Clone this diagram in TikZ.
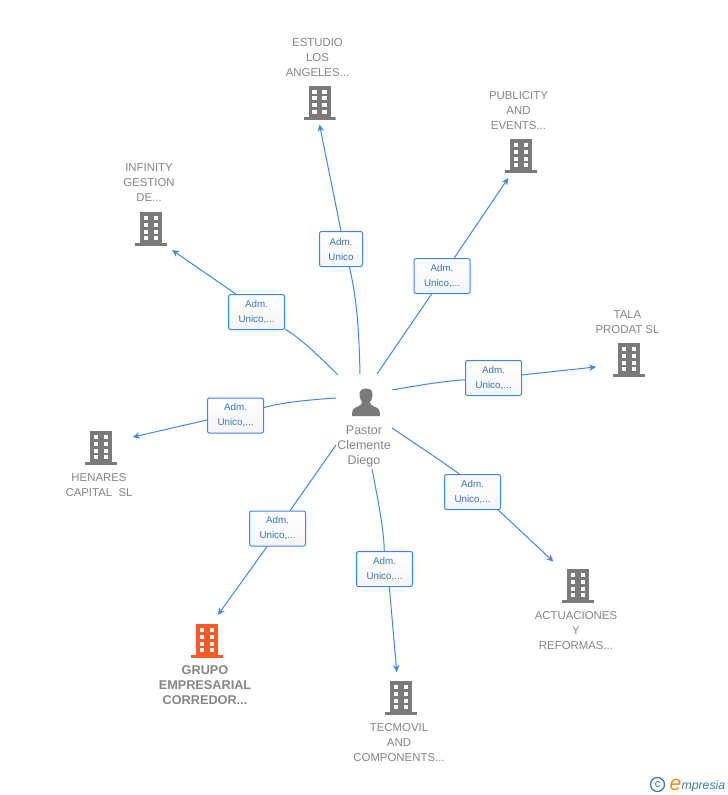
\documentclass[tikz,border=0pt]{standalone}
\usepackage{fontspec}
\setmainfont{Liberation Sans}
\usetikzlibrary{arrows.meta}
\definecolor{linkblue}{HTML}{3F87E6}
\definecolor{iconGray}{HTML}{7A7A7A}
\definecolor{iconOrange}{HTML}{FF5A26}
\definecolor{nameGray}{HTML}{858585}
\definecolor{logoBlue}{HTML}{3A7F9C}
\definecolor{logoOrange}{HTML}{F08A1D}
\newcommand{\drawbuilding}[1]{%
  \begin{scope}[shift={(path picture bounding box.center)}]
    \fill[#1] (-11,-17) rectangle (11,15);
    \fill[#1] (-16,14) rectangle (16,17);
    \foreach \wy in {-13,-6.5,0.5,7} {
      \fill[white] (-7.5,\wy) rectangle (-2.8,\wy+4.2);
      \fill[white] (2.5,\wy) rectangle (7.2,\wy+4.2);
    }
  \end{scope}}
\newcommand{\drawperson}{%
  \begin{scope}[shift={(path picture bounding box.center)}]
    \fill[iconGray] (0,-14) .. controls (-5,-14) and (-7,-11) .. (-6.5,-7)
      .. controls (-6.3,-4) and (-5,-2) .. (-4,-0.5) .. controls (-4,1.5) and (-5,2.5) .. (-8,4)
      .. controls (-12,5.5) and (-14,6) .. (-14,13.5) -- (14,13.5)
      .. controls (14,6) and (12,5.5) .. (8,4) .. controls (5,2.5) and (4,1.5) .. (4,-0.5)
      .. controls (5,-2) and (6.3,-4) .. (6.5,-7) .. controls (7,-11) and (5,-14) .. (0,-14) -- cycle;
  \end{scope}}
\tikzset{
  building/.style={minimum width=32pt, minimum height=34pt, inner sep=0pt, outer sep=5pt,
    path picture={\drawbuilding{#1}}},
  building/.default=iconGray,
  person/.style={minimum width=28pt, minimum height=28pt, inner sep=0pt,
    path picture={\drawperson}},
  company/.style={align=center, inner sep=0pt, text=nameGray, font=\fontsize{11.4}{15}\selectfont},
  role/.style={draw=linkblue, line width=1pt, rounded corners=2pt, top color=white, bottom color=white!96!black,
    minimum height=35pt, minimum width=56pt, inner sep=0pt, align=center, text=linkblue!85!black,
    font=\fontsize{9.8}{15}\selectfont},
  link/.style={draw=linkblue, line width=1pt},
  arrow/.style={link, -{Stealth[length=7pt,width=6.5pt]}},
}
\begin{document}
\begin{tikzpicture}[x=1pt, y=-1pt]
  \useasboundingbox (0,0) rectangle (728,795);

  \node[person] (pastor) at (366,402.5) {};
  \node[company, font=\fontsize{12.5}{15}\selectfont] (pastorname) at (364,446) {Pastor\\Clemente\\Diego};

  \node[building] (estudio) at (319.5,102.5) {};
  \node[building] (publicity) at (521,156) {};
  \node[building] (infinity) at (151,229) {};
  \node[building] (tala) at (629,360) {};
  \node[building] (henares) at (101,448) {};
  \node[building] (actuaciones) at (578,586) {};
  \node[building] (tecmovil) at (401,698) {};
  \node[building=iconOrange] (grupo) at (207,641) {};

  \node[company] (estudioname) at (317.5,58) {ESTUDIO\\LOS\\ANGELES...};
  \node[company] (publicityname) at (518.5,111) {PUBLICITY\\AND\\EVENTS...};
  \node[company] (infinityname) at (149,183) {INFINITY\\GESTION\\DE...};
  \node[company] (talaname) at (627.5,322.5) {TALA\\PRODAT SL};
  \node[company] (henaresname) at (99,485.5) {HENARES\\CAPITAL\ \ SL};
  \node[company] (actuacionesname) at (576,631) {ACTUACIONES\\Y\\REFORMAS...};
  \node[company] (tecmovilname) at (399,743) {TECMOVIL\\AND\\COMPONENTS...};
  \node[company, font=\bfseries\fontsize{12.7}{15}\selectfont] (gruponame) at (205,685.5) {GRUPO\\EMPRESARIAL\\CORREDOR...};

  \node[role, minimum width=43pt] (roleestudio) at (341,249) {Adm.\\Unico};
  \node[role] (rolepublicity) at (442,276) {Adm.\\Unico,...};
  \node[role] (roleinfinity) at (256.5,312) {Adm.\\Unico,...};
  \node[role] (roletala) at (493.5,378) {Adm.\\Unico,...};
  \node[role] (rolehenares) at (235.5,415.5) {Adm.\\Unico,...};
  \node[role] (roleactuaciones) at (472.5,492) {Adm.\\Unico,...};
  \node[role] (roletecmovil) at (384.5,569) {Adm.\\Unico,...};
  \node[role] (rolegrupo) at (277.5,528.5) {Adm.\\Unico,...};

  \coordinate (fromestudio) at (360,374);
  \coordinate (frompublicity) at (377,374);
  \coordinate (frominfinity) at (338,375);
  \coordinate (fromtala) at (392,390);
  \coordinate (fromhenares) at (336,398);
  \coordinate (fromactuaciones) at (392,428);
  \coordinate (fromtecmovil) at (372,469);
  \coordinate (fromgrupo) at (336,445);

  \draw[link] (fromestudio) .. controls (359,325) and (356,295) .. (roleestudio.-65);
  \draw[link] (frompublicity) -- (rolepublicity.-120);
  \draw[link] (frominfinity) .. controls (318,355) and (300,338) .. (roleinfinity);
  \draw[link] (fromtala) .. controls (420,385) and (445,381) .. (roletala);
  \draw[link] (fromhenares) .. controls (305,400) and (280,403) .. (rolehenares);
  \draw[link] (fromactuaciones) .. controls (420,447) and (440,460) .. (roleactuaciones.126);
  \draw[link] (fromtecmovil) .. controls (378,500) and (384,530) .. (roletecmovil);
  \draw[link] (fromgrupo) -- (rolegrupo);

  \draw[arrow] (roleestudio.north) -- (estudio.south);
  \draw[arrow] (rolepublicity) -- (publicity.-120);
  \draw[arrow] (roleinfinity.139) -- (infinity.-45);
  \draw[arrow, shorten >=12pt] (roletala) -- (tala.195);
  \draw[arrow, shorten >=11pt] (rolehenares.-171) -- (henares.22);
  \draw[arrow, shorten >=5pt] (roleactuaciones.-35) -- (actuaciones.135);
  \draw[arrow, shorten >=4pt] (roletecmovil.-75) -- (tecmovil.100);
  \draw[arrow, shorten >=5pt] (rolegrupo.-120) -- (grupo.70);

  \node[circle, draw=logoBlue, line width=1.3pt, minimum size=14pt, inner sep=0pt, text=logoBlue, font=\fontsize{11}{11}\selectfont] (logoc) at (657.5,784.5) {c};
  \node[inner sep=0pt, text=logoOrange, font=\itshape\fontsize{21}{21}\selectfont, anchor=base] (logoe) at (675.5,790) {e};
  \node[inner sep=0pt, text=logoBlue, font=\itshape\fontsize{12.3}{13}\selectfont, anchor=base east] (logotext) at (725.5,789) {mpresia};
\end{tikzpicture}
\end{document}
